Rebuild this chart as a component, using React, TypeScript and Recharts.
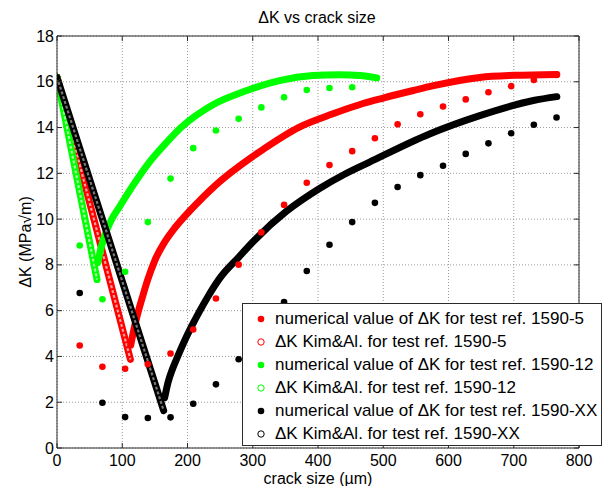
import React from 'react';
import { ComposedChart, Line, Scatter, XAxis, YAxis, CartesianGrid, ReferenceLine } from 'recharts';

const FONT = '"Liberation Sans", Arial, Helvetica, sans-serif';
const AXIS = '#2b2b2b';
const W = 610;
const H = 486;
const PLOT = { left: 57, top: 36, right: 579, bottom: 448 };

const xTicks = [0, 100, 200, 300, 400, 500, 600, 700, 800];
const yTicks = [0, 2, 4, 6, 8, 10, 12, 14, 16, 18];

// crack sizes of the numerical points (µm)
const crackSizes = [0, 34.8, 69.6, 104.4, 139.2, 174, 208.8, 243.6, 278.4, 313.2, 348, 382.8, 417.6, 452.4, 487.2, 522, 556.8, 591.6, 626.4, 661.2, 696, 730.8, 765.6];

// numerical ΔK values
const num1590_5 = [16.2, 4.48, 3.55, 3.46, 3.66, 4.13, 5.18, 6.53, 8.01, 9.42, 10.62, 11.59, 12.36, 12.97, 13.53, 14.14, 14.58, 14.92, 15.23, 15.54, 15.81, 16.08, 16.3];
const num1590_12 = [16.2, 8.85, 6.5, 7.7, 9.87, 11.77, 13.1, 13.87, 14.38, 14.88, 15.32, 15.64, 15.73, 15.76];
const num1590_XX = [16.2, 6.77, 1.98, 1.35, 1.31, 1.34, 1.93, 2.78, 3.88, 5.1, 6.38, 7.73, 8.88, 9.87, 10.71, 11.4, 11.92, 12.33, 12.85, 13.31, 13.75, 14.12, 14.44];

// Kim & Al. curves: falling branch then rising branch
const kim5DownX = [0, 112.5];
const kim5DownY = [16.2, 3.87];
const kim5UpX = [113, 118, 124, 131, 139, 150, 165, 180, 195, 220, 240, 265, 316, 370, 423, 469, 500, 546, 577, 648, 700, 766];
const kim5UpY = [4.5, 5.2, 5.9, 6.6, 7.35, 8.2, 9.0, 9.6, 10.1, 10.85, 11.4, 12.0, 13.05, 14.0, 14.6, 15.05, 15.29, 15.62, 15.83, 16.19, 16.28, 16.32];

const kim12DownX = [0, 61.3];
const kim12DownY = [16.2, 7.36];
const kim12UpX = [62.5, 68, 76, 85, 96, 116, 142, 168, 190, 239, 290, 341, 392, 433, 464, 490];
const kim12UpY = [8.1, 8.8, 9.5, 10.05, 10.55, 11.45, 12.5, 13.35, 14.0, 15.0, 15.61, 16.05, 16.27, 16.31, 16.27, 16.17];

const kimXXDownX = [0, 163.5];
const kimXXDownY = [16.2, 1.63];
const kimXXUpX = [165, 170, 177, 185, 195, 206, 218, 231, 249, 279, 300, 352, 403, 440, 479, 571, 648, 730, 766];
const kimXXUpY = [2.2, 2.85, 3.45, 4.0, 4.65, 5.3, 5.95, 6.6, 7.4, 8.35, 9.0, 10.35, 11.35, 11.95, 12.49, 13.72, 14.52, 15.18, 15.35];

const pts = (xs: number[], ys: number[]) => ys.map((y, i) => ({ x: xs[i], y }));

const SERIES = [
  { label: 'numerical value of ΔK for test ref. 1590-5', color: '#ff0000', filled: true },
  { label: 'ΔK Kim&Al. for test ref. 1590-5', color: '#ff0000', filled: false },
  { label: 'numerical value of ΔK for test ref. 1590-12', color: '#00ff00', filled: true },
  { label: 'ΔK Kim&Al. for test ref. 1590-12', color: '#00ff00', filled: false },
  { label: 'numerical value of ΔK for test ref. 1590-XX', color: '#000000', filled: true },
  { label: 'ΔK Kim&Al. for test ref. 1590-XX', color: '#000000', filled: false },
];

const dot = (color: string) => (p: any) => <circle cx={p.cx} cy={p.cy} r={3.3} fill={color} />;

const XTick = (props: any) => {
  const { x, payload } = props;
  return (
    <g>
      <line x1={x} x2={x} y1={PLOT.bottom} y2={PLOT.bottom - 5} stroke={AXIS} />
      <line x1={x} x2={x} y1={PLOT.top} y2={PLOT.top + 5} stroke={AXIS} />
      <text x={x} y={466} textAnchor="middle" fontSize={16} fontFamily={FONT} fill="#000">{payload.value}</text>
    </g>
  );
};

const YTick = (props: any) => {
  const { y, payload } = props;
  return (
    <g>
      <line x1={PLOT.left} x2={PLOT.left + 5} y1={y} y2={y} stroke={AXIS} />
      <line x1={PLOT.right} x2={PLOT.right - 5} y1={y} y2={y} stroke={AXIS} />
      <text x={54} y={y + 5.6} textAnchor="end" fontSize={16} fontFamily={FONT} fill="#000">{payload.value}</text>
    </g>
  );
};

// thick band of dense hollow circles
const KimBand = (key: string, data: { x: number; y: number }[], color: string, inner: string | null, type: 'linear' | 'monotone') => [
  <Line key={key + 'o'} data={data} dataKey="y" type={type} stroke={color} strokeWidth={7} strokeLinecap="round" strokeLinejoin="round" dot={false} activeDot={false} isAnimationActive={false} />,
  inner ? <Line key={key + 'i'} data={data} dataKey="y" type={type} stroke={inner} strokeWidth={2.2} strokeDasharray="3 2" dot={false} activeDot={false} isAnimationActive={false} /> : null,
];

export default function App() {
  return (
    <div style={{ position: 'absolute', left: 0, top: 0, width: W, height: H, background: '#fff' }}>
      <ComposedChart width={W} height={H} margin={{ top: PLOT.top, right: W - PLOT.right, left: 0, bottom: 0 }}>
        <CartesianGrid stroke="#9a9a9a" strokeDasharray="1 2" />
        <XAxis type="number" dataKey="x" domain={[0, 800]} ticks={xTicks} height={H - PLOT.bottom} tickLine={false} tick={<XTick />} axisLine={{ stroke: AXIS }} allowDataOverflow />
        <YAxis type="number" dataKey="y" domain={[0, 18]} ticks={yTicks} width={PLOT.left} tickLine={false} tick={<YTick />} axisLine={{ stroke: AXIS }} allowDataOverflow />
        <ReferenceLine y={18} stroke={AXIS} />
        <ReferenceLine x={800} stroke={AXIS} />

        <Scatter data={pts(crackSizes, num1590_5)} shape={dot('#ff0000')} isAnimationActive={false} />
        {KimBand('k5d', pts(kim5DownX, kim5DownY), '#ff0000', '#ff9c9c', 'linear')}
        {KimBand('k5u', pts(kim5UpX, kim5UpY), '#ff0000', null, 'monotone')}

        <Scatter data={pts(crackSizes, num1590_12)} shape={dot('#00ff00')} isAnimationActive={false} />
        {KimBand('k12d', pts(kim12DownX, kim12DownY), '#00ff00', '#a8ffa8', 'linear')}
        {KimBand('k12u', pts(kim12UpX, kim12UpY), '#00ff00', null, 'monotone')}

        <Scatter data={pts(crackSizes, num1590_XX)} shape={dot('#000000')} isAnimationActive={false} />
        {KimBand('kXXd', pts(kimXXDownX, kimXXDownY), '#000000', '#777777', 'linear')}
        {KimBand('kXXu', pts(kimXXUpX, kimXXUpY), '#000000', null, 'monotone')}
      </ComposedChart>

      <svg width={W} height={H} style={{ position: 'absolute', left: 0, top: 0, pointerEvents: 'none' }}>
        <text x={317} y={22.5} textAnchor="middle" fontSize={16} fontFamily={FONT}>ΔK vs crack size</text>
        <text x={318} y={484} textAnchor="middle" fontSize={16} fontFamily={FONT}>crack size (µm)</text>
        <text x={31} y={242} textAnchor="middle" fontSize={16} fontFamily={FONT} transform="rotate(-90 31 242)">ΔK (MPa√m)</text>
      </svg>

      <div style={{ position: 'absolute', left: 242, top: 303, width: 360, height: 143, boxSizing: 'border-box', border: `1px solid ${AXIS}`, background: '#fff', fontFamily: FONT, fontSize: 17, paddingTop: 3 }}>
        {SERIES.map(s => (
          <div key={s.label} style={{ position: 'relative', height: 23, lineHeight: '23px', whiteSpace: 'nowrap' }}>
            <svg width={12} height={12} style={{ position: 'absolute', left: 12, top: 5.5 }}>
              {s.filled
                ? <circle cx={6} cy={6} r={3.3} fill={s.color} />
                : <circle cx={6} cy={6} r={3.2} fill="none" stroke={s.color} strokeWidth={1} />}
            </svg>
            <span style={{ position: 'absolute', left: 32, top: 0 }}>{s.label}</span>
          </div>
        ))}
      </div>
    </div>
  );
}
